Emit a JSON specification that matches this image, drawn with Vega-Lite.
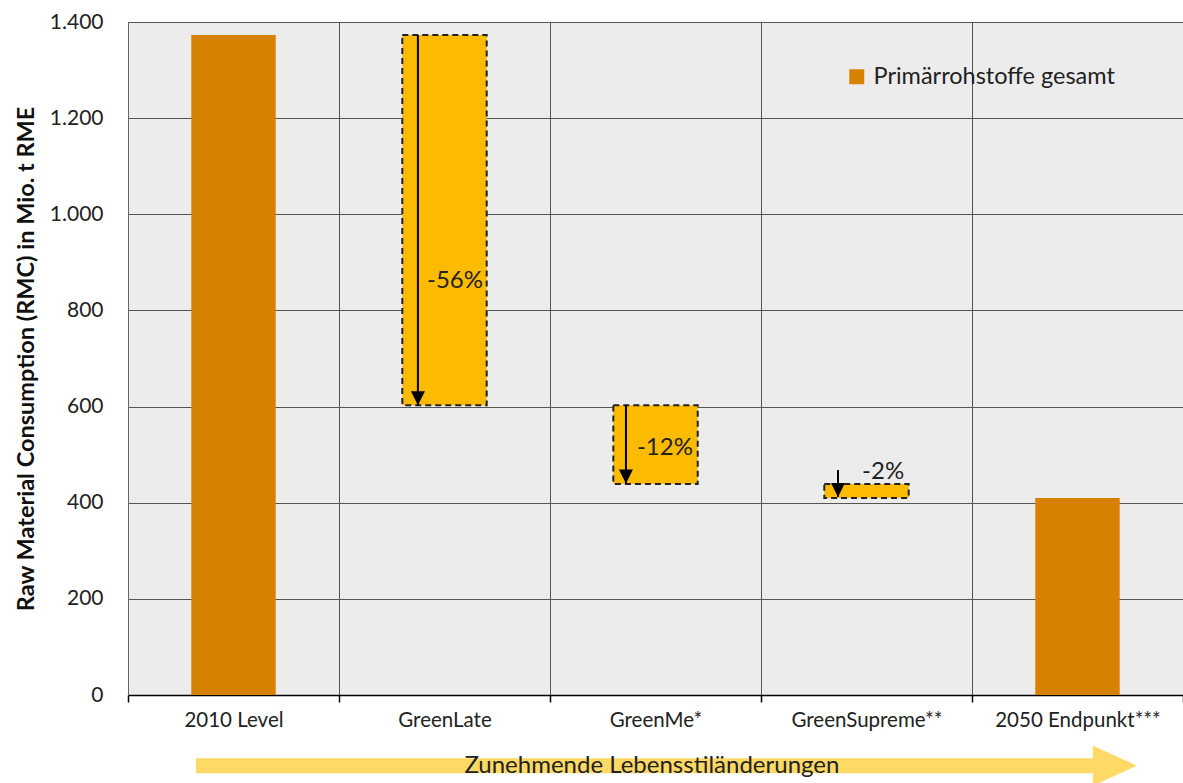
{
  "$schema": "https://vega.github.io/schema/vega-lite/v6.json",
  "width": 1055,
  "height": 673,
  "autosize": {"type": "none"},
  "padding": {"left": 128, "top": 22, "right": 0, "bottom": 88},
  "background": "white",
  "config": {
    "font": "Lato",
    "view": {"fill": "#ececec", "stroke": "#666666", "strokeWidth": 1}
  },
  "datasets": {
    "totals": [
      {"cat": "2010 Level", "start": 0, "end": 1373, "series": "Primärrohstoffe gesamt"},
      {"cat": "2050 Endpunkt***", "start": 0, "end": 410, "series": "Primärrohstoffe gesamt"}
    ],
    "changes": [
      {"cat": "GreenLate", "start": 603, "end": 1373},
      {"cat": "GreenMe*", "start": 439, "end": 603},
      {"cat": "GreenSupreme**", "start": 410, "end": 439}
    ],
    "arrows": [
      {"x": 1.374, "top": 1373, "tip": 603},
      {"x": 2.36, "top": 603, "tip": 440},
      {"x": 3.365, "top": 468, "tip": 412}
    ],
    "labels": [
      {"x": 1.417, "y": 861, "text": "-56%"},
      {"x": 2.412, "y": 514, "text": "-12%"},
      {"x": 3.479, "y": 464, "text": "-2%"}
    ],
    "trend": [
      {"x": 0.322, "x2": 4.573, "y": -147, "text": "Zunehmende Lebensstiländerungen", "tx": 2.483}
    ]
  },
  "resolve": {"scale": {"x": "independent"}},
  "layer": [
    {
      "data": {"name": "totals"},
      "mark": {"type": "bar", "width": {"band": 0.4}},
      "encoding": {
        "x": {
          "field": "cat", "type": "nominal",
          "sort": ["2010 Level", "GreenLate", "GreenMe*", "GreenSupreme**", "2050 Endpunkt***"],
          "scale": {"domain": ["2010 Level", "GreenLate", "GreenMe*", "GreenSupreme**", "2050 Endpunkt***"], "paddingInner": 0, "paddingOuter": 0},
          "axis": {
            "title": null, "labelAngle": 0, "labelFontSize": 20.5, "labelColor": "#222222", "labelPadding": 8,
            "tickBand": "extent", "tickSize": 7, "tickColor": "#000000", "tickWidth": 1.5,
            "domainColor": "#000000", "domainWidth": 1.5,
            "grid": true, "gridColor": "#555555", "gridWidth": 1
          }
        },
        "y": {
          "field": "start", "type": "quantitative",
          "scale": {"domain": [0, 1400], "nice": false},
          "axis": {
            "title": "Raw Material Consumption (RMC) in Mio. t RME",
            "titleFontSize": 23.5, "titleFontWeight": "bold", "titleColor": "#111111", "titlePadding": 11,
            "values": [0, 200, 400, 600, 800, 1000, 1200, 1400],
            "labelExpr": "replace(format(datum.value, ','), ',', '.')",
            "labelFontSize": 21, "labelColor": "#222222", "labelPadding": 25,
            "ticks": false, "domain": true, "domainColor": "#666666",
            "grid": true, "gridColor": "#555555", "gridWidth": 1
          }
        },
        "y2": {"field": "end"},
        "color": {
          "field": "series", "type": "nominal",
          "scale": {"range": ["#D68200"]},
          "legend": {
            "orient": "none", "legendX": 717, "legendY": 43, "title": null,
            "symbolType": "square", "symbolSize": 225, "symbolStrokeWidth": 0,
            "labelFontSize": 23.5, "labelLimit": 500, "labelColor": "#222222", "padding": 0, "labelOffset": 5
          }
        }
      }
    },
    {
      "data": {"name": "changes"},
      "mark": {"type": "bar", "width": {"band": 0.4}, "color": "#FCBA00", "stroke": "#222222", "strokeWidth": 2, "strokeDash": [6, 4]},
      "encoding": {
        "x": {
          "field": "cat", "type": "nominal",
          "sort": ["2010 Level", "GreenLate", "GreenMe*", "GreenSupreme**", "2050 Endpunkt***"],
          "scale": {"domain": ["2010 Level", "GreenLate", "GreenMe*", "GreenSupreme**", "2050 Endpunkt***"], "paddingInner": 0, "paddingOuter": 0},
          "axis": null
        },
        "y": {"field": "start", "type": "quantitative", "scale": {"domain": [0, 1400], "nice": false}},
        "y2": {"field": "end"}
      }
    },
    {
      "data": {"name": "arrows"},
      "mark": {"type": "rule", "color": "#000000", "strokeWidth": 2},
      "encoding": {
        "x": {"field": "x", "type": "quantitative", "scale": {"domain": [0, 5], "nice": false, "zero": false}, "axis": null},
        "y": {"field": "top", "type": "quantitative", "scale": {"domain": [0, 1400], "nice": false}},
        "y2": {"field": "tip"}
      }
    },
    {
      "data": {"name": "arrows"},
      "mark": {"type": "point", "shape": "M-0.5,-1L0.5,-1L0,0Z", "size": 784, "filled": true, "color": "#000000", "opacity": 1},
      "encoding": {
        "x": {"field": "x", "type": "quantitative", "scale": {"domain": [0, 5], "nice": false, "zero": false}, "axis": null},
        "y": {"field": "tip", "type": "quantitative", "scale": {"domain": [0, 1400], "nice": false}}
      }
    },
    {
      "data": {"name": "labels"},
      "mark": {"type": "text", "align": "left", "baseline": "middle", "fontSize": 24, "color": "#222222"},
      "encoding": {
        "x": {"field": "x", "type": "quantitative", "scale": {"domain": [0, 5], "nice": false, "zero": false}, "axis": null},
        "y": {"field": "y", "type": "quantitative", "scale": {"domain": [0, 1400], "nice": false}},
        "text": {"field": "text"}
      }
    },
    {
      "data": {"name": "trend"},
      "mark": {"type": "rule", "color": "#FFD966", "strokeWidth": 15, "strokeCap": "butt"},
      "encoding": {
        "x": {"field": "x", "type": "quantitative", "scale": {"domain": [0, 5], "nice": false, "zero": false}, "axis": null},
        "x2": {"field": "x2"},
        "y": {"field": "y", "type": "quantitative", "scale": {"domain": [0, 1400], "nice": false}}
      }
    },
    {
      "data": {"name": "trend"},
      "mark": {"type": "point", "shape": "M0,-1L2.2,0L0,1Z", "size": 1600, "filled": true, "color": "#FFD966", "opacity": 1},
      "encoding": {
        "x": {"field": "x2", "type": "quantitative", "scale": {"domain": [0, 5], "nice": false, "zero": false}, "axis": null},
        "y": {"field": "y", "type": "quantitative", "scale": {"domain": [0, 1400], "nice": false}}
      }
    },
    {
      "data": {"name": "trend"},
      "mark": {"type": "text", "align": "center", "baseline": "middle", "fontSize": 24, "color": "#222222"},
      "encoding": {
        "x": {"field": "tx", "type": "quantitative", "scale": {"domain": [0, 5], "nice": false, "zero": false}, "axis": null},
        "y": {"field": "y", "type": "quantitative", "scale": {"domain": [0, 1400], "nice": false}},
        "text": {"field": "text"}
      }
    }
  ]
}
